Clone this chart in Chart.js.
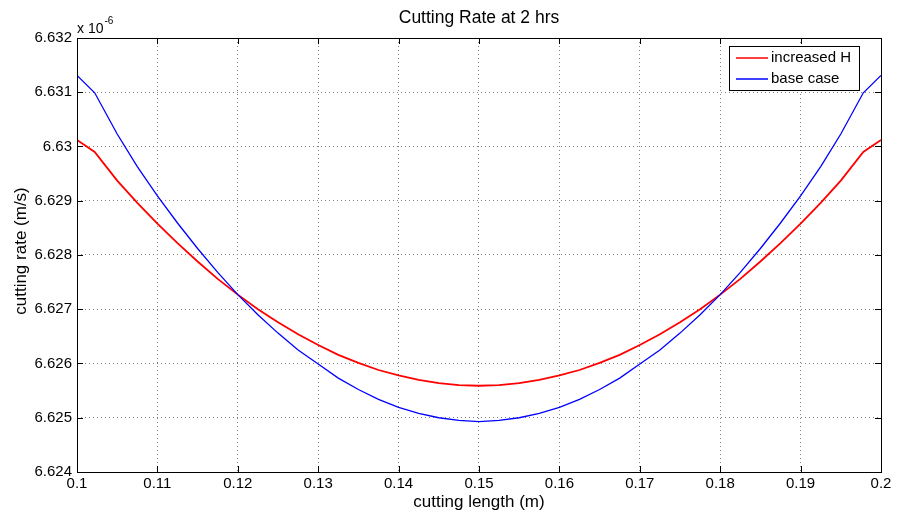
<!DOCTYPE html>
<html>
<head>
<meta charset="utf-8">
<script src="https://cdn.jsdelivr.net/npm/chart.js@4"></script>
<style>
  html, body { margin: 0; padding: 0; background: #fff; }
  #wrap { width: 898px; height: 516px; }
</style>
</head>
<body>
<div id="wrap"><canvas id="rateChart" width="898" height="516"></canvas></div>
<script>
// ── Data (values in units of 1e-6 m/s) ─────────────────────────────
const cutLength  = [0.1, 0.1022, 0.105, 0.1075, 0.11, 0.1125, 0.115, 0.1175, 0.12, 0.1225,
                    0.125, 0.1275, 0.13, 0.1325, 0.135, 0.1375, 0.14, 0.1425, 0.145, 0.1475,
                    0.15,
                    0.1525, 0.155, 0.1575, 0.16, 0.1625, 0.165, 0.1675, 0.17, 0.1725, 0.175,
                    0.1775, 0.18, 0.1825, 0.185, 0.1875, 0.19, 0.1925, 0.195, 0.1978, 0.2];
const increasedH = [6.63012, 6.62990, 6.62937, 6.62896, 6.62858, 6.62822, 6.62788, 6.62756, 6.62727, 6.62700,
                    6.62676, 6.62654, 6.62634, 6.62616, 6.62601, 6.62588, 6.62578, 6.62570, 6.62564, 6.62560,
                    6.62559,
                    6.62560, 6.62564, 6.62570, 6.62578, 6.62588, 6.62601, 6.62616, 6.62634, 6.62654, 6.62676,
                    6.62700, 6.62727, 6.62756, 6.62788, 6.62822, 6.62858, 6.62896, 6.62937, 6.62990, 6.63012];
const baseCase   = [6.63131, 6.63099, 6.63023, 6.62963, 6.62909, 6.62859, 6.62812, 6.62768, 6.62727, 6.62690,
                    6.62656, 6.62625, 6.62599, 6.62573, 6.62552, 6.62534, 6.62519, 6.62508, 6.62500, 6.62495,
                    6.62493,
                    6.62495, 6.62500, 6.62508, 6.62519, 6.62534, 6.62552, 6.62573, 6.62599, 6.62625, 6.62656,
                    6.62690, 6.62727, 6.62768, 6.62812, 6.62859, 6.62909, 6.62963, 6.63023, 6.63099, 6.63131];

const xTicks      = [0.1, 0.11, 0.12, 0.13, 0.14, 0.15, 0.16, 0.17, 0.18, 0.19, 0.2];
const xTickLabels = ['0.1', '0.11', '0.12', '0.13', '0.14', '0.15', '0.16', '0.17', '0.18', '0.19', '0.2'];
const yTicks      = [6.624, 6.625, 6.626, 6.627, 6.628, 6.629, 6.630, 6.631, 6.632];
const yTickLabels = ['6.624', '6.625', '6.626', '6.627', '6.628', '6.629', '6.63', '6.631', '6.632'];

const seriesNames  = ['increased H', 'base case'];
const seriesColors = ['#ff0000', '#0000ff'];

const FONT = '"Liberation Sans", Arial, Helvetica, sans-serif';

const toPoints = ys => cutLength.map((x, i) => ({ x: x, y: ys[i] }));

// ── MATLAB-ish frame: box, inward ticks, labels, legend ────────────
const matlabFrame = {
    id: 'matlabFrame',
    afterDraw(chart) {
        const ctx = chart.ctx;
        const a = chart.chartArea;
        const xs = chart.scales.x, ys = chart.scales.y;
        const tick = 6;

        ctx.save();
        ctx.strokeStyle = '#000';
        ctx.lineWidth = 1;
        ctx.strokeRect(Math.round(a.left) + 0.5, Math.round(a.top) + 0.5,
                       Math.round(a.right - a.left), Math.round(a.bottom - a.top));

        ctx.beginPath();
        xTicks.forEach(v => {
            const px = Math.round(xs.getPixelForValue(v)) + 0.5;
            ctx.moveTo(px, a.bottom); ctx.lineTo(px, a.bottom - tick);
            ctx.moveTo(px, a.top);    ctx.lineTo(px, a.top + tick);
        });
        yTicks.forEach(v => {
            const py = Math.round(ys.getPixelForValue(v)) + 0.5;
            ctx.moveTo(a.left, py);  ctx.lineTo(a.left + tick, py);
            ctx.moveTo(a.right, py); ctx.lineTo(a.right - tick, py);
        });
        ctx.stroke();

        ctx.fillStyle = '#000';
        ctx.textAlign = 'center';
        ctx.textBaseline = 'middle';
        // title
        ctx.font = '17.5px ' + FONT;
        ctx.fillText('Cutting Rate at 2 hrs', (a.left + a.right) / 2, 18);
        // x label
        ctx.font = '17px ' + FONT;
        ctx.fillText('cutting length (m)', (a.left + a.right) / 2, 502);
        // y label
        ctx.save();
        ctx.translate(21, 251);
        ctx.rotate(-Math.PI / 2);
        ctx.fillText('cutting rate (m/s)', 0, 0);
        ctx.restore();

        // exponent
        ctx.textAlign = 'left';
        ctx.textBaseline = 'alphabetic';
        ctx.font = '14px ' + FONT;
        ctx.fillText('x 10', a.left, 33);
        const w = ctx.measureText('x 10').width;
        ctx.font = '10px ' + FONT;
        ctx.fillText('-6', a.left + w + 1, 24);

        // legend
        const lx = 729, ly = 46, lw = 130, lh = 44;
        ctx.fillStyle = '#fff';
        ctx.fillRect(lx, ly, lw, lh);
        ctx.strokeStyle = '#000';
        ctx.strokeRect(lx + 0.5, ly + 0.5, lw, lh);
        ctx.font = '15px ' + FONT;
        ctx.textBaseline = 'middle';
        seriesNames.forEach((name, i) => {
            const yy = ly + 12 + i * 21;
            ctx.strokeStyle = seriesColors[i];
            ctx.lineWidth = 1.5;
            ctx.beginPath();
            ctx.moveTo(736, yy); ctx.lineTo(768, yy);
            ctx.stroke();
            ctx.fillStyle = '#000';
            ctx.fillText(name, 771, yy);
        });
        ctx.restore();
    }
};

new Chart(document.getElementById('rateChart'), {
    type: 'scatter',
    data: {
        datasets: [
            {
                label: seriesNames[0],
                data: toPoints(increasedH),
                borderColor: seriesColors[0],
                borderWidth: 1.8,
                showLine: true,
                pointRadius: 0,
                tension: 0,
                order: 1,
            },
            {
                label: seriesNames[1],
                data: toPoints(baseCase),
                borderColor: seriesColors[1],
                borderWidth: 1.3,
                showLine: true,
                pointRadius: 0,
                tension: 0,
                order: 0,
            }
        ]
    },
    options: {
        responsive: false,
        animation: false,
        events: [],
        layout: { padding: { left: 0, right: 17, top: 38, bottom: 0 } },
        plugins: {
            legend: { display: false },
            tooltip: { enabled: false },
            title: { display: false }
        },
        scales: {
            x: {
                type: 'linear',
                min: 0.1,
                max: 0.2,
                afterBuildTicks: s => { s.ticks = xTicks.map(v => ({ value: v })); },
                afterFit: s => { s.height = 44; },
                ticks: {
                    padding: 3,
                    color: '#000',
                    font: { family: FONT, size: 15 },
                    maxRotation: 0,
                    callback: (v, i) => xTickLabels[i]
                },
                grid: { color: '#808080', lineWidth: 1, drawTicks: false },
                border: { display: false, dash: [1, 3] }
            },
            y: {
                type: 'linear',
                min: 6.624,
                max: 6.632,
                afterBuildTicks: s => { s.ticks = yTicks.map(v => ({ value: v })); },
                afterFit: s => { s.width = 77; },
                ticks: {
                    padding: 5,
                    color: '#000',
                    font: { family: FONT, size: 15 },
                    callback: (v, i) => yTickLabels[i]
                },
                grid: { color: '#808080', lineWidth: 1, drawTicks: false },
                border: { display: false, dash: [1, 3] }
            }
        }
    },
    plugins: [matlabFrame]
});
</script>
</body>
</html>
